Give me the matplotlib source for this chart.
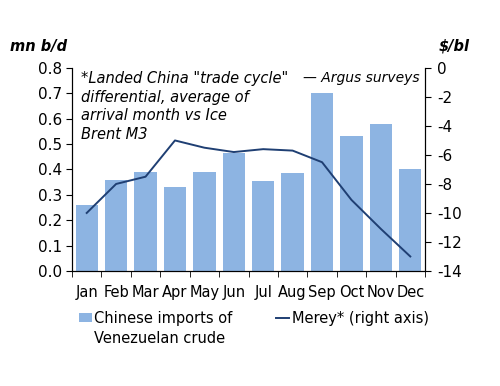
import matplotlib.pyplot as plt
import numpy as np

months = ["Jan", "Feb", "Mar", "Apr", "May", "Jun", "Jul", "Aug", "Sep", "Oct", "Nov", "Dec"]
imports = [0.26, 0.36, 0.39, 0.33, 0.39, 0.465, 0.355, 0.385, 0.70, 0.53, 0.58, 0.40]
merey = [-10.0, -8.0, -7.5, -5.0, -5.5, -5.8, -5.6, -5.7, -6.5, -9.1, -11.1, -13.0]

plt.rcParams['font.family'] = ['DejaVu Sans']
fs = 10.5
bar_col = "#8db4e2"
line_col = "#1f3f73"

fig = plt.figure(figsize=(5, 3.86), dpi=100)
ax = fig.add_axes([0.144, 0.298, 0.706, 0.526])
x = np.arange(len(months))
b = ax.bar(x, imports, width=0.76, color=bar_col)
ax.set_xlim(-0.5, 11.5)
ax.set_ylim(0, 0.8)
ax.set_yticks(np.arange(0, 0.81, 0.1))
ax.set_yticklabels([f"{v:.1f}" for v in np.arange(0, 0.81, 0.1)], fontsize=11)
ax.set_xticks(x)
ax.set_xticklabels(months, fontsize=fs)
ax.set_xticks(np.arange(-0.5, 12, 1), minor=True)
ax.tick_params(axis='x', which='major', length=0, pad=10)
ax.tick_params(axis='x', which='minor', length=4, direction='out')
ax.tick_params(axis='y', length=4, direction='out', pad=3)
ax.spines['top'].set_visible(False)

ax2 = ax.twinx()
ln, = ax2.plot(x, merey, color=line_col, lw=1.4)
ax2.set_ylim(-14, 0)
ax2.set_yticks(range(-14, 1, 2))
ax2.set_yticklabels([str(v) for v in range(-14, 1, 2)], fontsize=11)
ax2.tick_params(axis='y', length=4, direction='out', pad=5)
ax2.spines['top'].set_visible(False)

fig.text(0.02, 0.868, "mn b/d", fontsize=fs, fontweight='bold', style='italic')
fig.text(0.878, 0.868, "$/bl", fontsize=fs, fontweight='bold', style='italic')
ax.text(0.025, 0.985, '*Landed China "trade cycle"\ndifferential, average of\narrival month vs Ice\nBrent M3',
        transform=ax.transAxes, fontsize=fs, style='italic', va='top', ha='left', linespacing=1.3)
ax.text(0.985, 0.985, "— Argus surveys", transform=ax.transAxes, fontsize=10, style='italic',
        va='top', ha='right')

leg = fig.legend([b, ln], ["Chinese imports of", "Merey* (right axis)"],
                 loc='upper left', bbox_to_anchor=(0.158, 0.195), ncol=2, frameon=False,
                 fontsize=fs, handlelength=0.9, handleheight=0.55, handletextpad=0.15,
                 columnspacing=3.0, borderaxespad=0, borderpad=0)

fig.canvas.draw()
bb = leg.get_texts()[0].get_window_extent()
x0, y0 = fig.transFigure.inverted().transform((bb.x0, bb.y0))
fig.text(x0, y0 - 0.052, "Venezuelan crude", fontsize=fs, va='bottom', ha='left')

fig.savefig("out.png", dpi=100)
